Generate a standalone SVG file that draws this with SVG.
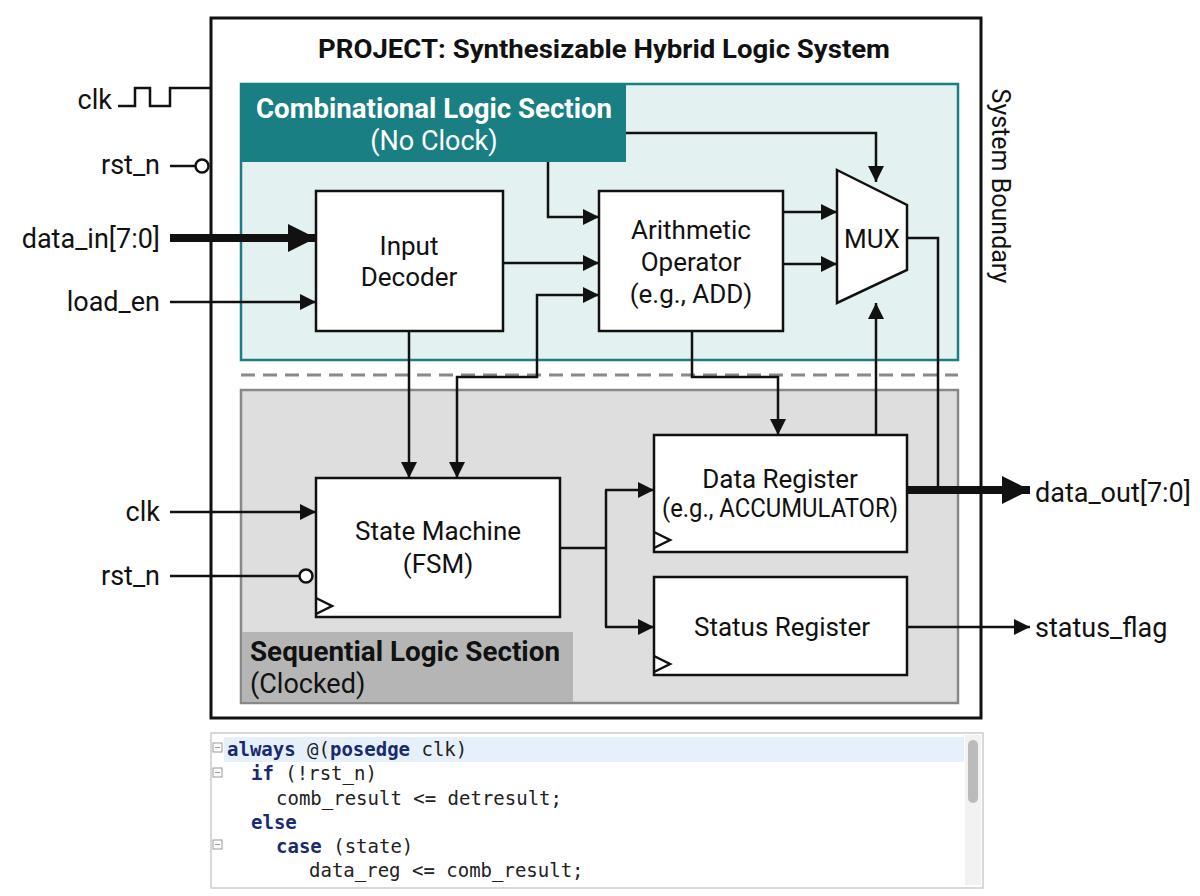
<svg xmlns="http://www.w3.org/2000/svg" width="1200" height="896" viewBox="0 0 1200 896">
<defs>
<style>
text{font-family:Roboto,"Liberation Sans",sans-serif;fill:#111}
.lbl{font-size:27px}
.blk{fill:#fff;stroke:#111;stroke-width:2.5}
.bt{font-size:26px;text-anchor:middle}
.w{fill:none;stroke:#111;stroke-width:2.5}
.code{font-family:"DejaVu Sans Mono",monospace;font-size:19px;fill:#222}
.kw{font-weight:bold;fill:#1a2a6e}
.fold{fill:#fff;stroke:#999;stroke-width:1}
</style>
<marker id="a" viewBox="0 0 10 10" refX="10" refY="5" markerWidth="18" markerHeight="16" markerUnits="userSpaceOnUse" orient="auto"><path d="M0,0L10,5L0,10z" fill="#111"/></marker>
<marker id="a2" viewBox="0 0 10 10" refX="10" refY="5" markerWidth="30" markerHeight="28" markerUnits="userSpaceOnUse" orient="auto"><path d="M0,0L10,5L0,10z" fill="#111"/></marker>
<marker id="ab" viewBox="0 0 10 10" refX="10" refY="5" markerWidth="18" markerHeight="16" markerUnits="userSpaceOnUse" orient="auto-start-reverse"><path d="M0,0L10,5L0,10z" fill="#111"/></marker>
</defs>
<rect width="1200" height="896" fill="#fff"/>
<g id="system">
<rect x="211" y="18" width="770" height="700" fill="#fff" stroke="#111" stroke-width="3"/>
<text x="604" y="58" font-size="26" font-weight="bold" text-anchor="middle" textLength="572" lengthAdjust="spacingAndGlyphs">PROJECT: Synthesizable Hybrid Logic System</text>
<text transform="translate(992,186) rotate(90)" font-size="25" text-anchor="middle">System Boundary</text>
</g>
<g id="comb">
<rect x="241" y="84" width="717" height="276" fill="#e3f1f1" stroke="#1a7f82" stroke-width="2.5"/>
<rect x="241" y="84" width="385" height="78" fill="#1a7f82"/>
<text x="434" y="118" font-size="27" font-weight="bold" text-anchor="middle" style="fill:#fff" textLength="356" lengthAdjust="spacingAndGlyphs">Combinational Logic Section</text>
<text x="434" y="150" font-size="27" text-anchor="middle" style="fill:#fff">(No Clock)</text>
</g>
<line x1="241" y1="375" x2="958" y2="375" stroke="#888" stroke-width="3" stroke-dasharray="14,8"/>
<g id="seq">
<rect x="241" y="390" width="717" height="313" fill="#dedede" stroke="#888" stroke-width="2.5"/>
<rect x="242" y="632" width="331" height="70" fill="#b5b5b5"/>
<text x="250" y="661" font-size="27" font-weight="bold" textLength="310" lengthAdjust="spacingAndGlyphs">Sequential Logic Section</text>
<text x="250" y="693" font-size="27">(Clocked)</text>
</g>
<g id="decoder"><rect class="blk" x="316" y="191" width="187" height="140"/><text class="bt" x="409" y="255">Input</text><text class="bt" x="409" y="286">Decoder</text></g>
<g id="arith"><rect class="blk" x="599" y="191" width="184" height="140"/><text class="bt" x="691" y="239">Arithmetic</text><text class="bt" x="691" y="271">Operator</text><text class="bt" x="691" y="303">(e.g., ADD)</text></g>
<g id="mux"><path class="blk" d="M837,170L907,205L907,270L837,303Z"/><text class="bt" x="872" y="248" font-size="23">MUX</text></g>
<g id="fsm"><rect class="blk" x="316" y="478" width="244" height="139"/><path class="w" d="M316,598L332,606L316,614" stroke-width="2"/><text class="bt" x="438" y="540">State Machine</text><text class="bt" x="438" y="573">(FSM)</text></g>
<g id="datareg"><rect class="blk" x="654" y="435" width="253" height="117"/><path class="w" d="M654,532L670,540L654,548" stroke-width="2"/><text class="bt" x="780" y="488">Data Register</text><text class="bt" x="780" y="517" font-size="22" textLength="236" lengthAdjust="spacingAndGlyphs">(e.g., ACCUMULATOR)</text></g>
<g id="statusreg"><rect class="blk" x="654" y="577" width="253" height="98"/><path class="w" d="M654,656L670,664L654,672" stroke-width="2"/><text class="bt" x="782" y="636">Status Register</text></g>
<g id="labels">
<text class="lbl" x="112" y="109" text-anchor="end">clk</text>
<text class="lbl" x="160" y="174" text-anchor="end">rst_n</text>
<text class="lbl" x="160" y="248" text-anchor="end">data_in[7:0]</text>
<text class="lbl" x="160" y="311" text-anchor="end">load_en</text>
<text class="lbl" x="160" y="521" text-anchor="end">clk</text>
<text class="lbl" x="160" y="585" text-anchor="end">rst_n</text>
<text class="lbl" x="1035" y="502">data_out[7:0]</text>
<text class="lbl" x="1035" y="637">status_flag</text>
</g>
<g id="connectors">
<path class="w" d="M118,106H135V88H150V106H170V88H211"/>
<line class="w" x1="170" y1="166" x2="195" y2="166"/>
<circle cx="202" cy="166" r="6.5" fill="#fff" stroke="#111" stroke-width="2.5"/>
<line x1="170" y1="238" x2="316" y2="238" stroke="#111" stroke-width="8" marker-end="url(#a2)"/>
<line class="w" x1="170" y1="302" x2="316" y2="302" marker-end="url(#a)"/>
<line class="w" x1="503" y1="263" x2="599" y2="263" marker-end="url(#a)"/>
<path class="w" d="M548,162V217H599" marker-end="url(#a)"/>
<path class="w" d="M626,133H876V182" marker-end="url(#a)"/>
<line class="w" x1="783" y1="212" x2="837" y2="212" marker-end="url(#a)"/>
<line class="w" x1="783" y1="264" x2="837" y2="264" marker-end="url(#a)"/>
<path class="w" d="M907,238H938V490"/>
<line x1="907" y1="490" x2="1030" y2="490" stroke="#111" stroke-width="8" marker-end="url(#a2)"/>
<line class="w" x1="409" y1="331" x2="409" y2="478" marker-end="url(#a)"/>
<path class="w" d="M457,478V377H537V295H599" marker-start="url(#ab)" marker-end="url(#ab)"/>
<path class="w" d="M692,331V377H778V435" marker-end="url(#a)"/>
<line class="w" x1="876" y1="435" x2="876" y2="303" marker-end="url(#a)"/>
<line class="w" x1="170" y1="512" x2="316" y2="512" marker-end="url(#a)"/>
<line class="w" x1="170" y1="576" x2="299" y2="576"/>
<circle cx="306" cy="576" r="6.5" fill="#fff" stroke="#111" stroke-width="2.5"/>
<path class="w" d="M560,548H606"/>
<path class="w" d="M606,490V627"/>
<line class="w" x1="605" y1="490" x2="654" y2="490" marker-end="url(#a)"/>
<line class="w" x1="605" y1="627" x2="654" y2="627" marker-end="url(#a)"/>
<line class="w" x1="907" y1="627" x2="1030" y2="627" marker-end="url(#a)"/>
</g>
<g id="code">
<rect x="211" y="733" width="772" height="155" fill="#fff" stroke="#ccc" stroke-width="1.5"/>
<rect x="224" y="737" width="740" height="25" fill="#e6f0fb"/>
<rect x="965" y="735" width="16" height="150" fill="#f2f2f2"/>
<rect x="968" y="740" width="10" height="63" rx="5" fill="#bbb"/>
<rect class="fold" x="213" y="743" width="9" height="9"/><line x1="215" y1="747.5" x2="220" y2="747.5" stroke="#999"/>
<rect class="fold" x="213" y="768" width="9" height="9"/><line x1="215" y1="772.5" x2="220" y2="772.5" stroke="#999"/>
<rect class="fold" x="213" y="840" width="9" height="9"/><line x1="215" y1="844.5" x2="220" y2="844.5" stroke="#999"/>
<text class="code" x="227" y="756"><tspan class="kw">always</tspan> @(<tspan class="kw">posedge</tspan> clk)</text>
<text class="code" x="251" y="780"><tspan class="kw">if</tspan> (!rst_n)</text>
<text class="code" x="276" y="805">comb_result &lt;= detresult;</text>
<text class="code" x="251" y="829"><tspan class="kw">else</tspan></text>
<text class="code" x="276" y="853"><tspan class="kw">case</tspan> (state)</text>
<text class="code" x="309" y="877">data_reg &lt;= comb_result;</text>
</g>
</svg>
